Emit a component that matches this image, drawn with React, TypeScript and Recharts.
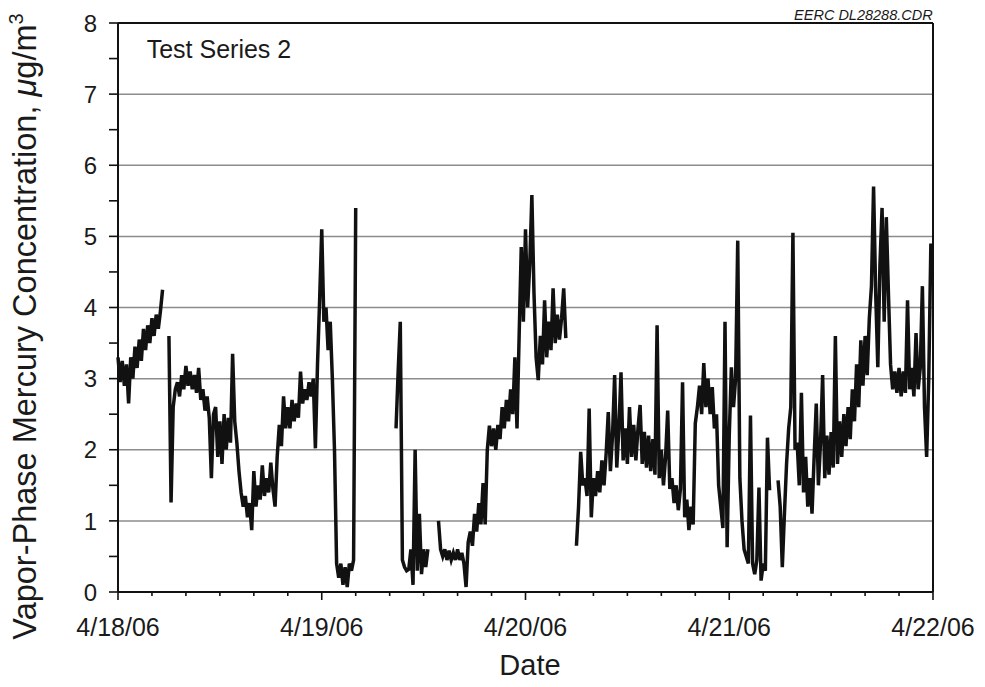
import React from "react";
import { LineChart, Line, XAxis, YAxis, CartesianGrid, ReferenceLine } from "recharts";

// sampling step of the series, hours
const STEP = 0.25;

// hours since 4/18/06 00:00 at which each unbroken record starts
const segStarts = [0, 6.0, 32.75, 37.75, 54.0, 77.75];

const seg1 = [3.3, 2.95, 3.25, 2.9, 3.2, 2.65, 3.3, 3.0, 3.45, 3.15, 3.55, 3.25, 3.7, 3.4, 3.75, 3.5, 3.85, 3.6, 3.9, 3.7, 3.95, 4.25];

const seg2 = [
  3.6, 1.26, 2.6, 2.85,
  2.95, 2.75, 3.05, 2.85,
  3.18, 2.9, 3.1, 2.85,
  3.05, 2.8, 3.15, 2.7,
  2.85, 2.55, 2.75, 2.45,
  1.6, 2.5, 2.6, 1.9,
  2.4, 1.8, 2.5, 2.0,
  2.45, 2.1, 3.35, 2.4,
  2.1, 1.7, 1.4, 1.2,
  1.35, 1.05, 1.25, 0.87,
  1.7, 1.2, 1.5, 1.3,
  1.78, 1.35, 1.6, 1.4,
  1.82, 1.45, 1.2, 1.9,
  2.35, 2.05, 2.75, 2.3,
  2.6, 2.3, 2.7, 2.4,
  2.65, 2.45, 3.1, 2.65,
  2.85, 2.7, 2.95, 2.75,
  3.0, 2.02, 3.2, 4.1,
  5.1, 3.8, 4.0, 3.4,
  3.8, 3.0, 2.0, 0.4,
  0.2, 0.4, 0.1, 0.35,
  0.07, 0.4, 0.3, 0.45,
  5.4,
];

const seg3 = [2.3, 3.1, 3.8, 0.45, 0.35, 0.3, 0.32, 0.6, 0.1, 2.0, 0.3, 1.1, 0.25, 0.6, 0.35, 0.6];

const seg4 = [
  1.0,
  0.6, 0.5, 0.6, 0.45,
  0.58, 0.45, 0.55, 0.45,
  0.6, 0.45, 0.55, 0.4,
  0.07, 0.7, 0.85, 0.65,
  1.1, 0.85, 1.25, 0.95,
  1.53, 0.95, 2.0, 2.34,
  2.05, 2.3, 2.0, 2.35,
  2.15, 2.6, 2.3, 2.7,
  2.4, 2.85, 2.5, 3.3,
  2.3, 3.6, 4.85, 3.8,
  5.1, 4.0, 4.6, 5.58,
  4.2, 3.3, 2.98, 3.6,
  3.2, 4.1, 3.3, 3.8,
  3.4, 4.27, 3.5, 3.9,
  3.55, 3.85, 4.27, 3.57,
];

const seg5 = [
  0.65, 1.2, 1.97, 1.5,
  1.6, 1.35, 2.58, 1.05,
  1.6, 1.35, 1.7, 1.4,
  1.85, 1.5, 1.95, 2.53,
  1.7, 2.2, 3.05, 1.75,
  2.3, 3.09, 1.85, 2.3,
  1.8, 2.6, 1.9, 2.35,
  1.85, 2.3, 2.63, 1.8,
  2.25, 1.75, 2.2, 1.7,
  2.15, 1.65, 3.75, 1.6,
  2.0, 1.5, 1.9, 2.55,
  1.45, 1.6, 1.25, 1.5,
  1.15, 1.45, 2.95, 1.05,
  1.3, 0.87, 1.2, 0.95,
  2.37, 2.6, 2.9, 2.5,
  3.22, 2.6, 3.0, 2.5,
  2.88, 2.3, 2.5, 1.5,
  1.2, 0.9, 3.8, 0.63,
  2.2, 3.16, 2.6, 3.0,
  4.94, 1.6, 1.0, 0.6,
  0.5, 0.4, 2.48, 0.4,
  0.25, 0.45, 1.47, 0.16,
  0.4, 0.3, 2.17, 1.43,
];

const seg6 = [
  1.57,
  1.2, 0.35, 1.1, 1.8,
  2.3, 2.6, 5.05, 2.0,
  2.1, 1.5, 2.8, 1.4,
  1.9, 1.2, 1.6, 1.1,
  1.9, 2.65, 1.5, 2.1,
  3.05, 1.6, 2.2, 1.65,
  2.25, 1.75, 3.6, 1.8,
  2.4, 1.9, 2.5, 2.05,
  2.6, 2.15, 2.85, 2.4,
  3.2, 2.6, 3.54, 2.9,
  3.6, 3.05, 3.85, 4.3,
  5.7, 4.2, 3.16, 4.6,
  5.4, 3.8, 5.27, 4.2,
  3.2, 2.85, 3.1, 2.8,
  3.15, 2.75, 3.1, 2.8,
  4.1, 2.85, 3.15, 2.75,
  3.64, 2.85, 3.15, 4.3,
  2.6, 1.9, 3.0, 4.9,
];

const segments = [seg1, seg2, seg3, seg4, seg5, seg6];

const xTicks = [0, 4, 8, 12, 16, 20, 24, 28, 32, 36, 40, 44, 48, 52, 56, 60, 64, 68, 72, 76, 80, 84, 88, 92, 96];
const dayLabels: Record<number, string> = { 0: "4/18/06", 24: "4/19/06", 48: "4/20/06", 72: "4/21/06", 96: "4/22/06" };
const yTicks = [0, 0.5, 1, 1.5, 2, 2.5, 3, 3.5, 4, 4.5, 5, 5.5, 6, 6.5, 7, 7.5, 8];
const gridValues = [1, 2, 3, 4, 5, 6, 7];

type Row = { h: number; v: number | null };
const rows: Row[] = [];
segments.forEach((vals, s) => {
  const start = segStarts[s];
  vals.forEach((v, i) => rows.push({ h: start + i * STEP, v }));
  rows.push({ h: start + (vals.length - 1) * STEP + 0.1, v: null });
});

const W = 977;
const H = 679;
const PLOT_LEFT = 110;
const PLOT_BOTTOM = 584;
const FONT = "'Liberation Sans', Arial, Helvetica, sans-serif";

const YTick = (props: any) => {
  const { y, payload } = props;
  const val = payload.value as number;
  const isInt = Math.abs(val - Math.round(val)) < 1e-6;
  return (
    <g>
      <line x1={PLOT_LEFT - 9} x2={PLOT_LEFT} y1={y} y2={y} stroke="#111" strokeWidth={1.6} />
      {isInt && (
        <text x={PLOT_LEFT - 21} y={y} dy="0.36em" textAnchor="end" fontSize={24} fontFamily={FONT} fill="#1a1a1a">
          {val}
        </text>
      )}
    </g>
  );
};

const XTick = (props: any) => {
  const { x, payload } = props;
  const val = payload.value as number;
  const label = dayLabels[val];
  const major = label !== undefined;
  return (
    <g>
      <line x1={x} x2={x} y1={PLOT_BOTTOM} y2={PLOT_BOTTOM + (major ? 8 : 4)} stroke="#111" strokeWidth={1.6} />
      {major && (
        <text x={x} y={628} textAnchor="middle" fontSize={25} fontFamily={FONT} fill="#1a1a1a">
          {label}
        </text>
      )}
    </g>
  );
};

export default function App() {
  return (
    <div style={{ position: "relative", width: W, height: H, background: "#fff" }}>
      <LineChart width={W} height={H} data={rows} margin={{ top: 15, right: 52, bottom: 35, left: 0 }}>
        <CartesianGrid vertical={false} horizontalValues={gridValues} stroke="#8c8c8c" strokeWidth={1.5} />
        <XAxis
          type="number"
          dataKey="h"
          domain={[0, 96]}
          ticks={xTicks}
          interval={0}
          height={60}
          tick={<XTick />}
          tickLine={false}
          axisLine={{ stroke: "#111", strokeWidth: 2 }}
        />
        <YAxis
          type="number"
          domain={[0, 8]}
          ticks={yTicks}
          interval={0}
          width={110}
          tick={<YTick />}
          tickLine={false}
          axisLine={{ stroke: "#111", strokeWidth: 2 }}
        />
        <ReferenceLine y={8} stroke="#111" strokeWidth={2} />
        <ReferenceLine x={96} stroke="#111" strokeWidth={2} />
        <Line
          type="linear"
          dataKey="v"
          stroke="#111"
          strokeWidth={3.5}
          dot={false}
          connectNulls={false}
          isAnimationActive={false}
        />
      </LineChart>
      <svg width={W} height={H} style={{ position: "absolute", left: 0, top: 0, pointerEvents: "none", overflow: "visible" }}>
        <text x={138.7} y={50.3} fontSize={25} fontFamily={FONT} fill="#1a1a1a">
          Test Series 2
        </text>
        <text x={924.7} y={12} fontSize={14.5} fontStyle="italic" textAnchor="end" fontFamily={FONT} fill="#1a1a1a">
          EERC DL28288.CDR
        </text>
        <text x={522} y={667} fontSize={29} textAnchor="middle" fontFamily={FONT} fill="#1a1a1a">
          Date
        </text>
        <text
          x={318.5}
          y={28}
          fontSize={32.5}
          textAnchor="middle"
          fontFamily={FONT}
          fill="#1a1a1a"
          transform="translate(0 637) rotate(-90 0 0)"
        >
          Vapor-Phase Mercury Concentration, <tspan fontStyle="italic">μ</tspan>g/m
          <tspan fontSize={20} dy={-13}>3</tspan>
        </text>
      </svg>
    </div>
  );
}
